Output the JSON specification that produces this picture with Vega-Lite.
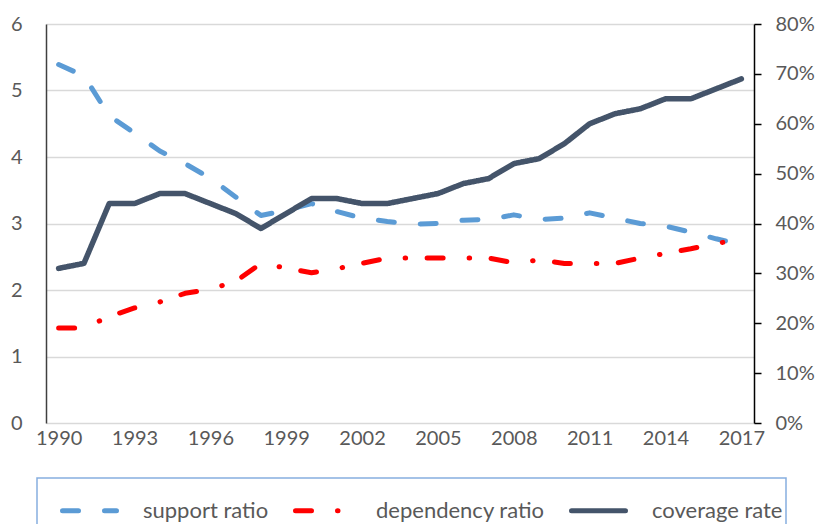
{
  "$schema": "https://vega.github.io/schema/vega-lite/v6.json",
  "width": 708,
  "height": 399,
  "autosize": "none",
  "padding": {"left": 46, "top": 24, "right": 67, "bottom": 101},
  "background": "white",
  "config": {
    "view": {"stroke": null},
    "font": "Lato",
    "axis": {"labelFont": "Lato", "labelFontSize": 20, "labelColor": "#595959", "title": null},
    "legend": {"labelFont": "Lato", "labelFontSize": 22, "labelColor": "#595959", "labelLimit": 400}
  },
  "datasets": {
    "rows": [
      {"year": 1990, "series": "support ratio", "value": 5.39},
      {"year": 1991, "series": "support ratio", "value": 5.22},
      {"year": 1992, "series": "support ratio", "value": 4.62},
      {"year": 1993, "series": "support ratio", "value": 4.36},
      {"year": 1994, "series": "support ratio", "value": 4.09},
      {"year": 1995, "series": "support ratio", "value": 3.9},
      {"year": 1996, "series": "support ratio", "value": 3.68},
      {"year": 1997, "series": "support ratio", "value": 3.4},
      {"year": 1998, "series": "support ratio", "value": 3.12},
      {"year": 1999, "series": "support ratio", "value": 3.2},
      {"year": 2000, "series": "support ratio", "value": 3.3},
      {"year": 2001, "series": "support ratio", "value": 3.18},
      {"year": 2002, "series": "support ratio", "value": 3.08},
      {"year": 2003, "series": "support ratio", "value": 3.03},
      {"year": 2004, "series": "support ratio", "value": 2.99},
      {"year": 2005, "series": "support ratio", "value": 3.0},
      {"year": 2006, "series": "support ratio", "value": 3.05},
      {"year": 2007, "series": "support ratio", "value": 3.06},
      {"year": 2008, "series": "support ratio", "value": 3.13},
      {"year": 2009, "series": "support ratio", "value": 3.06},
      {"year": 2010, "series": "support ratio", "value": 3.08},
      {"year": 2011, "series": "support ratio", "value": 3.16},
      {"year": 2012, "series": "support ratio", "value": 3.08},
      {"year": 2013, "series": "support ratio", "value": 3.0},
      {"year": 2014, "series": "support ratio", "value": 2.96},
      {"year": 2015, "series": "support ratio", "value": 2.87},
      {"year": 2016, "series": "support ratio", "value": 2.77},
      {"year": 2017, "series": "support ratio", "value": 2.68},
      {"year": 1990, "series": "dependency ratio", "value": 1.43},
      {"year": 1991, "series": "dependency ratio", "value": 1.43},
      {"year": 1992, "series": "dependency ratio", "value": 1.6},
      {"year": 1993, "series": "dependency ratio", "value": 1.73},
      {"year": 1994, "series": "dependency ratio", "value": 1.82},
      {"year": 1995, "series": "dependency ratio", "value": 1.95},
      {"year": 1996, "series": "dependency ratio", "value": 2.01},
      {"year": 1997, "series": "dependency ratio", "value": 2.13},
      {"year": 1998, "series": "dependency ratio", "value": 2.4},
      {"year": 1999, "series": "dependency ratio", "value": 2.33},
      {"year": 2000, "series": "dependency ratio", "value": 2.26},
      {"year": 2001, "series": "dependency ratio", "value": 2.32},
      {"year": 2002, "series": "dependency ratio", "value": 2.4},
      {"year": 2003, "series": "dependency ratio", "value": 2.48},
      {"year": 2004, "series": "dependency ratio", "value": 2.48},
      {"year": 2005, "series": "dependency ratio", "value": 2.48},
      {"year": 2006, "series": "dependency ratio", "value": 2.48},
      {"year": 2007, "series": "dependency ratio", "value": 2.48},
      {"year": 2008, "series": "dependency ratio", "value": 2.41},
      {"year": 2009, "series": "dependency ratio", "value": 2.45},
      {"year": 2010, "series": "dependency ratio", "value": 2.4},
      {"year": 2011, "series": "dependency ratio", "value": 2.4},
      {"year": 2012, "series": "dependency ratio", "value": 2.4},
      {"year": 2013, "series": "dependency ratio", "value": 2.48},
      {"year": 2014, "series": "dependency ratio", "value": 2.55},
      {"year": 2015, "series": "dependency ratio", "value": 2.62},
      {"year": 2016, "series": "dependency ratio", "value": 2.7},
      {"year": 2017, "series": "dependency ratio", "value": 2.76},
      {"year": 1990, "series": "coverage rate", "value": 0.31},
      {"year": 1991, "series": "coverage rate", "value": 0.32},
      {"year": 1992, "series": "coverage rate", "value": 0.44},
      {"year": 1993, "series": "coverage rate", "value": 0.44},
      {"year": 1994, "series": "coverage rate", "value": 0.46},
      {"year": 1995, "series": "coverage rate", "value": 0.46},
      {"year": 1996, "series": "coverage rate", "value": 0.44},
      {"year": 1997, "series": "coverage rate", "value": 0.42},
      {"year": 1998, "series": "coverage rate", "value": 0.39},
      {"year": 1999, "series": "coverage rate", "value": 0.42},
      {"year": 2000, "series": "coverage rate", "value": 0.45},
      {"year": 2001, "series": "coverage rate", "value": 0.45},
      {"year": 2002, "series": "coverage rate", "value": 0.44},
      {"year": 2003, "series": "coverage rate", "value": 0.44},
      {"year": 2004, "series": "coverage rate", "value": 0.45},
      {"year": 2005, "series": "coverage rate", "value": 0.46},
      {"year": 2006, "series": "coverage rate", "value": 0.48},
      {"year": 2007, "series": "coverage rate", "value": 0.49},
      {"year": 2008, "series": "coverage rate", "value": 0.52},
      {"year": 2009, "series": "coverage rate", "value": 0.53},
      {"year": 2010, "series": "coverage rate", "value": 0.56},
      {"year": 2011, "series": "coverage rate", "value": 0.6},
      {"year": 2012, "series": "coverage rate", "value": 0.62},
      {"year": 2013, "series": "coverage rate", "value": 0.63},
      {"year": 2014, "series": "coverage rate", "value": 0.65},
      {"year": 2015, "series": "coverage rate", "value": 0.65},
      {"year": 2016, "series": "coverage rate", "value": 0.67},
      {"year": 2017, "series": "coverage rate", "value": 0.69}
    ]
  },
  "data": {"name": "rows"},
  "layer": [
    {
      "transform": [{"filter": "datum.series !== 'coverage rate'"}],
      "mark": {"type": "line", "strokeWidth": 5, "strokeCap": "round", "strokeJoin": "round"},
      "encoding": {
        "x": {
          "field": "year", "type": "quantitative",
          "scale": {"domain": [1989.5, 2017.5], "nice": false, "zero": false},
          "axis": {"values": [1990, 1993, 1996, 1999, 2002, 2005, 2008, 2011, 2014, 2017], "format": "d", "grid": false, "domain": false, "ticks": false, "labelPadding": 5}
        },
        "y": {
          "field": "value", "type": "quantitative",
          "scale": {"domain": [0, 6], "nice": false},
          "axis": {"values": [0, 1, 2, 3, 4, 5, 6], "grid": true, "gridColor": "#d9d9d9", "gridWidth": 1.5, "ticks": false, "domain": true, "domainColor": "#404040", "domainWidth": 1.5, "labelPadding": 24}
        },
        "color": {
          "field": "series", "type": "nominal",
          "scale": {"domain": ["support ratio", "dependency ratio", "coverage rate"], "range": ["#5B9BD5", "#FF0000", "#44546A"]},
          "legend": {"title": null, "orient": "none", "legendX": -9, "legendY": 454, "direction": "horizontal", "symbolType": "stroke", "symbolSize": 2916, "symbolStrokeWidth": 5, "strokeColor": "#86AEE0", "padding": 3, "columnPadding": 4, "symbolOffset": 20, "labelOffset": 24, "labelFontSize": 22, "labelLimit": 400, "labelColor": "#595959",
            "encode": {"legend": {"update": {"strokeWidth": {"value": 1.5}}}, "symbols": {"update": {"strokeCap": {"value": "round"}}}}}
        },
        "strokeDash": {
          "field": "series", "type": "nominal",
          "scale": {"domain": ["support ratio", "dependency ratio", "coverage rate"], "range": [[16, 26], [16, 26, 0.5, 21.5], [1, 0]]},
          "legend": {"title": null, "orient": "none", "legendX": -9, "legendY": 454, "direction": "horizontal", "symbolType": "stroke", "symbolSize": 2916, "symbolStrokeWidth": 5, "strokeColor": "#86AEE0", "padding": 3, "columnPadding": 4, "symbolOffset": 20, "labelOffset": 24, "labelFontSize": 22, "labelLimit": 400, "labelColor": "#595959",
            "encode": {"legend": {"update": {"strokeWidth": {"value": 1.5}}}, "symbols": {"update": {"strokeCap": {"value": "round"}}}}}
        }
      }
    },
    {
      "transform": [{"filter": "datum.series === 'coverage rate'"}],
      "mark": {"type": "line", "strokeWidth": 5.5, "strokeCap": "round", "strokeJoin": "round"},
      "encoding": {
        "x": {"field": "year", "type": "quantitative"},
        "y": {
          "field": "value", "type": "quantitative",
          "scale": {"domain": [0, 0.8], "nice": false},
          "axis": {"orient": "right", "values": [0, 0.1, 0.2, 0.3, 0.4, 0.5, 0.6, 0.7, 0.8], "format": ".0%", "grid": false, "ticks": true, "tickSize": 7, "tickColor": "#000000", "domain": true, "domainColor": "#000000", "domainWidth": 1.5, "tickWidth": 1.5, "labelPadding": 14}
        },
        "color": {"field": "series", "type": "nominal"},
        "strokeDash": {"field": "series", "type": "nominal"}
      }
    }
  ],
  "resolve": {"scale": {"y": "independent"}}
}
